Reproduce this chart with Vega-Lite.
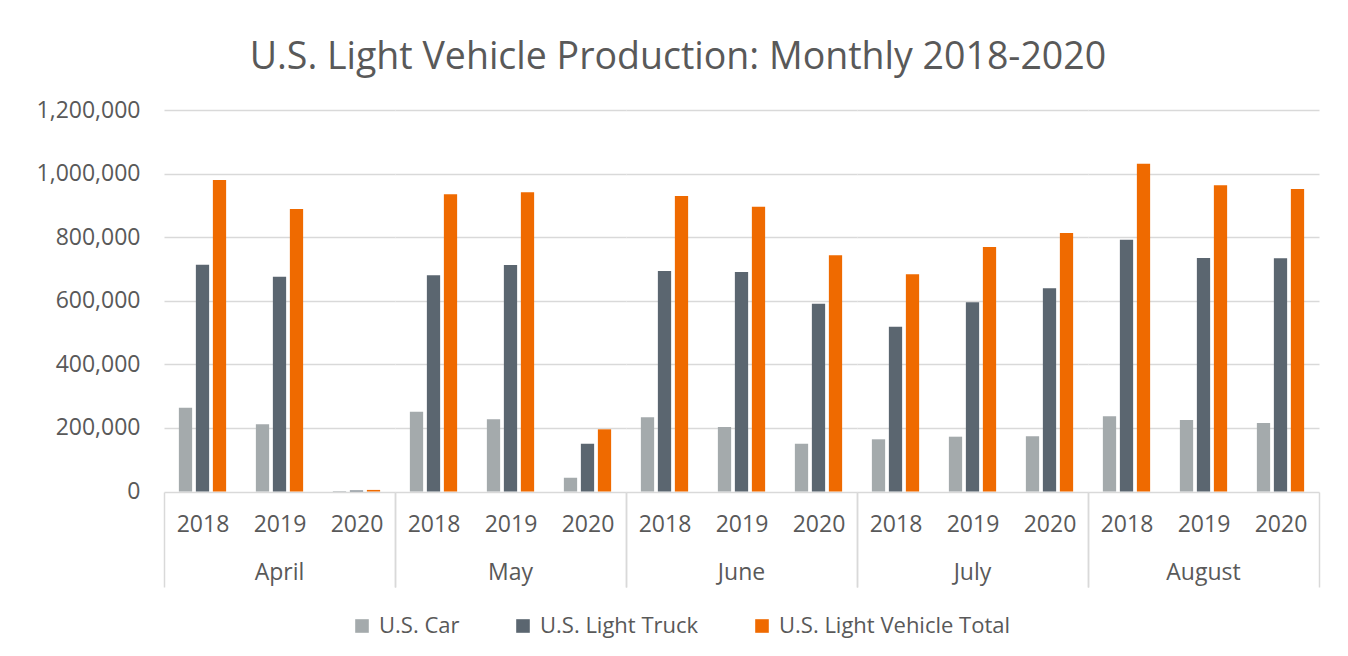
{
  "$schema": "https://vega.github.io/schema/vega-lite/v6.json",
  "background": "white",
  "padding": {"left": 36, "top": 39, "right": 27, "bottom": 10},
  "title": {"text": "U.S. Light Vehicle Production: Monthly 2018-2020", "fontSize": 37.5, "font": "Open Sans", "fontWeight": "normal", "color": "#595959", "anchor": "middle", "frame": "bounds", "offset": 22.5},
  "data": {"values": [
    {"month": "April", "year": "2018", "series": "U.S. Car", "value": 263600},
    {"month": "April", "year": "2018", "series": "U.S. Light Truck", "value": 713400},
    {"month": "April", "year": "2018", "series": "U.S. Light Vehicle Total", "value": 979800},
    {"month": "April", "year": "2019", "series": "U.S. Car", "value": 211400},
    {"month": "April", "year": "2019", "series": "U.S. Light Truck", "value": 675700},
    {"month": "April", "year": "2019", "series": "U.S. Light Vehicle Total", "value": 888600},
    {"month": "April", "year": "2020", "series": "U.S. Car", "value": 1500},
    {"month": "April", "year": "2020", "series": "U.S. Light Truck", "value": 3500},
    {"month": "April", "year": "2020", "series": "U.S. Light Vehicle Total", "value": 5000},
    {"month": "May", "year": "2018", "series": "U.S. Car", "value": 251000},
    {"month": "May", "year": "2018", "series": "U.S. Light Truck", "value": 680000},
    {"month": "May", "year": "2018", "series": "U.S. Light Vehicle Total", "value": 934900},
    {"month": "May", "year": "2019", "series": "U.S. Car", "value": 227100},
    {"month": "May", "year": "2019", "series": "U.S. Light Truck", "value": 712500},
    {"month": "May", "year": "2019", "series": "U.S. Light Vehicle Total", "value": 941100},
    {"month": "May", "year": "2020", "series": "U.S. Car", "value": 43400},
    {"month": "May", "year": "2020", "series": "U.S. Light Truck", "value": 150400},
    {"month": "May", "year": "2020", "series": "U.S. Light Vehicle Total", "value": 195600},
    {"month": "June", "year": "2018", "series": "U.S. Car", "value": 233400},
    {"month": "June", "year": "2018", "series": "U.S. Light Truck", "value": 693600},
    {"month": "June", "year": "2018", "series": "U.S. Light Vehicle Total", "value": 929500},
    {"month": "June", "year": "2019", "series": "U.S. Car", "value": 202900},
    {"month": "June", "year": "2019", "series": "U.S. Light Truck", "value": 690400},
    {"month": "June", "year": "2019", "series": "U.S. Light Vehicle Total", "value": 895900},
    {"month": "June", "year": "2020", "series": "U.S. Car", "value": 150400},
    {"month": "June", "year": "2020", "series": "U.S. Light Truck", "value": 590700},
    {"month": "June", "year": "2020", "series": "U.S. Light Vehicle Total", "value": 742900},
    {"month": "July", "year": "2018", "series": "U.S. Car", "value": 164200},
    {"month": "July", "year": "2018", "series": "U.S. Light Truck", "value": 518400},
    {"month": "July", "year": "2018", "series": "U.S. Light Vehicle Total", "value": 683200},
    {"month": "July", "year": "2019", "series": "U.S. Car", "value": 172400},
    {"month": "July", "year": "2019", "series": "U.S. Light Truck", "value": 595100},
    {"month": "July", "year": "2019", "series": "U.S. Light Vehicle Total", "value": 769100},
    {"month": "July", "year": "2020", "series": "U.S. Car", "value": 173600},
    {"month": "July", "year": "2020", "series": "U.S. Light Truck", "value": 639200},
    {"month": "July", "year": "2020", "series": "U.S. Light Vehicle Total", "value": 813100},
    {"month": "August", "year": "2018", "series": "U.S. Car", "value": 236500},
    {"month": "August", "year": "2018", "series": "U.S. Light Truck", "value": 792100},
    {"month": "August", "year": "2018", "series": "U.S. Light Vehicle Total", "value": 1031100},
    {"month": "August", "year": "2019", "series": "U.S. Car", "value": 224900},
    {"month": "August", "year": "2019", "series": "U.S. Light Truck", "value": 734500},
    {"month": "August", "year": "2019", "series": "U.S. Light Vehicle Total", "value": 963100},
    {"month": "August", "year": "2020", "series": "U.S. Car", "value": 215500},
    {"month": "August", "year": "2020", "series": "U.S. Light Truck", "value": 733500},
    {"month": "August", "year": "2020", "series": "U.S. Light Vehicle Total", "value": 951500}
  ]},
  "facet": {
    "column": {
      "field": "month", "type": "nominal",
      "sort": ["April", "May", "June", "July", "August"],
      "header": {"title": null, "labelOrient": "bottom", "labelFontSize": 23, "labelColor": "#595959", "labelFont": "Open Sans", "labelPadding": -26}
    }
  },
  "spacing": 0,
  "spec": {
    "width": 231,
    "height": 381.5,
    "mark": {"type": "bar"},
    "encoding": {
      "x": {"field": "year", "type": "nominal", "scale": {"paddingInner": 0, "paddingOuter": 0},
            "axis": {"title": null, "labelAngle": 0, "ticks": true, "tickBand": "extent", "tickSize": 95, "tickColor": "#d9d9d9", "tickWidth": 1.5,
                     "tickOpacity": {"condition": {"test": "datum.value == '2020' || datum.value == null", "value": 1}, "value": 0},
                     "domain": false, "grid": false, "labelPadding": -74, "labelFontSize": 23, "labelColor": "#595959"}},
      "xOffset": {"field": "series", "type": "nominal", "sort": ["U.S. Car", "U.S. Light Truck", "U.S. Light Vehicle Total"], "scale": {"paddingInner": 0.22, "paddingOuter": 0.875}},
      "y": {"field": "value", "type": "quantitative", "scale": {"domain": [0, 1200000], "nice": false},
            "axis": {"title": null, "grid": true, "gridColor": "#d9d9d9", "gridWidth": 1.5, "domain": false, "ticks": false, "labelPadding": 24, "values": [0, 200000, 400000, 600000, 800000, 1000000, 1200000], "format": ",d", "labelFontSize": 23, "labelColor": "#595959"}},
      "color": {"field": "series", "type": "nominal",
                "scale": {"domain": ["U.S. Car", "U.S. Light Truck", "U.S. Light Vehicle Total"], "range": ["#A4AAAC", "#5B6670", "#EF6A00"]},
                "legend": {"title": null, "orient": "none", "legendX": 187, "legendY": 505, "direction": "horizontal", "padding": 0, "symbolType": "square", "symbolSize": 185, "symbolStrokeWidth": 0, "labelFontSize": 22, "labelColor": "#595959", "labelOffset": 6, "labelLimit": 500, "columnPadding": 52}}
    }
  },
  "config": {
    "font": "Open Sans",
    "view": {"stroke": null},
    "axis": {"labelFont": "Open Sans"},
    "legend": {"labelFont": "Open Sans"}
  }
}
